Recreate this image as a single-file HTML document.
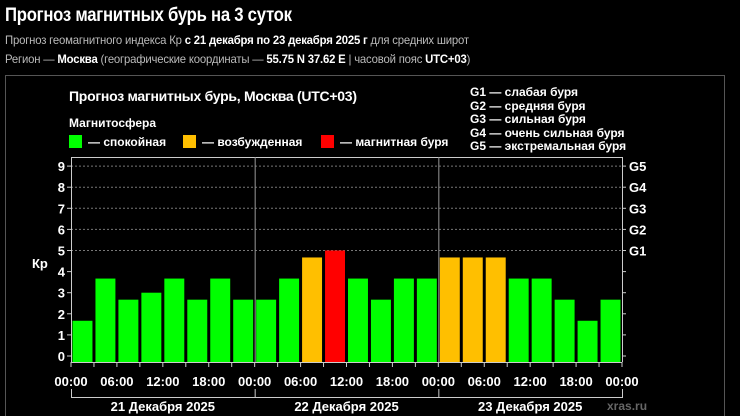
<!DOCTYPE html>
<html><head><meta charset="utf-8"><style>
body{margin:0;background:#000;width:740px;height:416px;overflow:hidden;font-family:"Liberation Sans","Noto Sans CJK SC",sans-serif;color:#fff}
.h{position:absolute;left:5px;top:5px;font-size:19px;font-weight:bold;letter-spacing:-0.3px;transform:scaleX(0.88);transform-origin:0 0;white-space:nowrap}
.s{position:absolute;left:5px;font-size:12px;color:#bbb;letter-spacing:-0.2px;transform:scaleX(0.945);transform-origin:0 0;white-space:nowrap}
.s b{color:#fff}
</style></head><body>
<div class="h">Прогноз магнитных бурь на 3 суток</div>
<div class="s" style="top:33px">Прогноз геомагнитного индекса Кр <b>с 21 декабря по 23 декабря 2025 г</b> для средних широт</div>
<div class="s" style="top:52px">Регион — <b>Москва</b> (географические координаты — <b>55.75 N 37.62 E</b> | часовой пояс <b>UTC+03</b>)</div>
<svg id="c" width="740" height="416" style="position:absolute;left:0;top:0" font-family="Liberation Sans, sans-serif">
<rect x="5.5" y="75.5" width="719" height="350" fill="none" stroke="#555"/>
<text x="69" y="101" fill="#fff" font-size="14" font-weight="bold" textLength="288">Прогноз магнитных бурь, Москва (UTC+03)</text>
<text x="69" y="127" fill="#fff" font-size="12" font-weight="bold">Магнитосфера</text>
<g><rect x="69" y="135" width="13" height="13" fill="#00ff00"/><text x="88" y="146" fill="#fff" font-size="12" font-weight="bold">— спокойная</text></g>
<g><rect x="183" y="135" width="13" height="13" fill="#ffbf00"/><text x="202" y="146" fill="#fff" font-size="12" font-weight="bold">— возбужденная</text></g>
<g><rect x="321" y="135" width="13" height="13" fill="#ff0000"/><text x="340" y="146" fill="#fff" font-size="12" font-weight="bold">— магнитная буря</text></g>
<g font-size="12" font-weight="bold" fill="#fff">
<text x="470" y="96">G1 — слабая буря</text><text x="470" y="110">G2 — средняя буря</text><text x="470" y="123">G3 — сильная буря</text><text x="470" y="137">G4 — очень сильная буря</text><text x="470" y="150">G5 — экстремальная буря</text></g>
<text x="32" y="268" fill="#fff" font-size="13" font-weight="bold">Кр</text>
<text x="607" y="410" fill="#666" font-size="12" font-weight="bold">xras.ru</text>
<g id="g"></g>
</svg>
<script>
const kpValues=[1.67,3.67,2.67,3,3.67,2.67,3.67,2.67, 2.67,3.67,4.67,5,3.67,2.67,3.67,3.67, 4.67,4.67,4.67,3.67,3.67,2.67,1.67,2.67];
const dayLabels=["21 Декабря 2025","22 Декабря 2025","23 Декабря 2025"];
const timeLabels=["00:00","06:00","12:00","18:00"];
const gLabels=["G1","G2","G3","G4","G5"];
const L=71,R=622,T=157,B=362;
const y=v=>356-v*21.1;
const x=i=>L+i*(R-L)/24;
const ns="http://www.w3.org/2000/svg",g=document.getElementById('g');
function mk(t,a,txt){const e=document.createElementNS(ns,t);for(const k in a)e.setAttribute(k,a[k]);if(txt!=null)e.textContent=txt;g.appendChild(e);return e;}
for(let v=0;v<=9;v++){
 const e=mk('text',{x:L-6,y:y(v)+5,fill:'#fff','font-size':13,'font-weight':'bold','text-anchor':'end'},v);
 
 
 mk('line',{x1:L-4,x2:L,y1:y(v),y2:y(v),stroke:'#ccc'});
 mk('line',{x1:R,x2:R+4,y1:y(v),y2:y(v),stroke:'#ccc'});
 if(v>=5){const gl=mk('line',{x1:L,x2:R,y1:y(v),y2:y(v),stroke:'#777','stroke-dasharray':'2,2'});
  
  
  const t=mk('text',{x:R+7,y:y(v)+5,fill:'#fff','font-size':13,'font-weight':'bold'},gLabels[v-5]);
  
  }
}
kpValues.forEach((v,i)=>{
 const c=v>=5?'#ff0000':v>=4?'#ffbf00':'#00ff00';
 const r=mk('rect',{x:x(i)+1.5,y:y(v),width:(R-L)/24-3,height:B-y(v),fill:c});
 
 
});
mk('line',{x1:L,x2:R,y1:T+.5,y2:T+.5,stroke:'#ccc'});
mk('line',{x1:L+.5,x2:L+.5,y1:T,y2:B,stroke:'#ccc'});
mk('line',{x1:R+.5,x2:R+.5,y1:T,y2:B,stroke:'#ccc'});
mk('line',{x1:L,x2:R,y1:B+.5,y2:B+.5,stroke:'#ccc'});
for(let d=1;d<3;d++)mk('line',{x1:x(d*8)+.5,x2:x(d*8)+.5,y1:T,y2:B,stroke:'#999'});
for(let i=0;i<=24;i++){
 mk('line',{x1:x(i),x2:x(i),y1:B,y2:B+5,stroke:'#ccc'});
 if(i%2==0){const t=mk('text',{x:x(i),y:B+24,fill:'#fff','font-size':13,'font-weight':'bold','text-anchor':'middle'},timeLabels[(i/2)%4]);
  
  }
}
mk('line',{x1:L,x2:R,y1:397.5,y2:397.5,stroke:'#ccc'});
dayLabels.forEach((d,k)=>{
 mk('line',{x1:x(k*8)+.5,x2:x(k*8)+.5,y1:389,y2:398,stroke:'#ccc'});
 const t=mk('text',{x:(x(k*8)+x(k*8+8))/2,y:411,fill:'#fff','font-size':13,'font-weight':'bold','text-anchor':'middle'},d);
 
 
});
mk('line',{x1:R+.5,x2:R+.5,y1:389,y2:398,stroke:'#ccc'});
</script>
</body></html>
